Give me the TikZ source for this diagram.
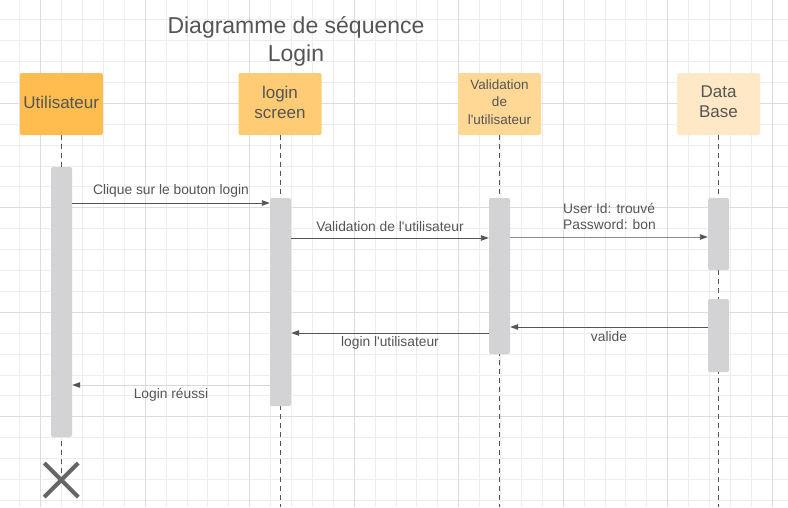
\documentclass[tikz,border=0pt]{standalone}
\usepackage{fontspec}
\setmainfont{Liberation Sans}
\usetikzlibrary{arrows.meta,calc}
\definecolor{gminor}{HTML}{EDEDED}
\definecolor{gmajor}{HTML}{DCDCDC}
\definecolor{txt}{HTML}{555555}
\definecolor{actA}{HTML}{FFBC4F}
\definecolor{actB}{HTML}{FFCB74}
\definecolor{actC}{HTML}{FFD895}
\definecolor{actD}{HTML}{FFE8C6}
\definecolor{barc}{HTML}{D3D3D5}
\definecolor{linec}{HTML}{555555}
\tikzset{
  minorline/.style={draw=gminor, line width=1pt},
  majorline/.style={draw=gmajor, line width=1.2pt},
  actor/.style={rounded corners=2pt, minimum width=83pt, minimum height=62pt, inner sep=1pt},
  actortext/.style={yshift=2pt, align=center, text=txt, inner sep=0pt, font=\fontsize{17}{20}\selectfont},
  actortextsmall/.style={actortext, font=\fontsize{13.5}{17.5}\selectfont},
  bar/.style={fill=barc, rounded corners=2pt, minimum width=21pt, inner sep=0pt},
  lifeline/.style={draw=linec, dash pattern=on 5pt off 4pt, line width=0.9pt},
  msg/.style={draw=linec, line width=0.9pt, -{Triangle[length=8pt,width=5.5pt,color=linec]}},
  msglabel/.style={text=txt, font=\fontsize{13.8}{16}\selectfont, inner sep=0pt},
  title/.style={text=txt, font=\fontsize{23}{28}\selectfont, align=center},
  crossline/.style={draw=black!60, line width=4pt}
}
\newcommand{\apos}{\textquotesingle}
\begin{document}
\begin{tikzpicture}[x=1pt,y=-1pt]
\useasboundingbox (0,0) rectangle (788,507);
\begin{scope}
\clip (0,0) rectangle (788,507);
\fill[white] (0,0) rectangle (788,507);
\foreach \k in {0,...,37} {\draw[minorline] ({19.8+20.9*\k},0) -- ++(0,507);}
\foreach \k in {1,...,24} {\draw[minorline] (0,{-1.2+20.9*\k}) -- ++(788,0);}
\foreach \k in {0,...,7} {\draw[majorline] ({40.7+104.5*\k},0) -- ++(0,507);}
\foreach \k in {1,...,4} {\draw[majorline] (0,{-1.2+104.5*\k}) -- ++(788,0);}
\end{scope}

\node[title] (title) at (296,41) {Diagramme de séquence\\Login};

\node[actor, fill=actA, label={[actortext]center:Utilisateur}] (au) at (61.25,104) {};
\node[actor, fill=actB, label={[actortext]center:{login\\screen}}] (al) at (280,104) {};
\node[actor, fill=actC, label={[actortextsmall]center:{Validation\\de\\l\apos utilisateur}}] (av) at (499.5,104) {};
\node[actor, fill=actD, label={[actortext]center:{Data\\Base}}] (ad) at (718.5,104) {};

\coordinate (xend) at (61.25,480);
\coordinate (lend) at (280.5,507);
\coordinate (vend) at (499.5,507);
\coordinate (dend) at (718.5,507);

\draw[lifeline] (au.south) -- (xend);
\draw[lifeline] (al.south) -- (al.south |- lend);
\draw[lifeline] (av.south) -- (av.south |- vend);
\draw[lifeline] (ad.south) -- (ad.south |- dend);

\node[bar, minimum height=270pt] (bu) at (61.5,302) {};
\node[bar, minimum height=208pt] (bl) at (280.5,302) {};
\node[bar, minimum height=156pt] (bv) at (499.5,276) {};
\node[bar, minimum height=72pt] (bd1) at (718.5,234) {};
\node[bar, minimum height=73pt] (bd2) at (718.5,335.5) {};

\draw[crossline] ($(xend)+(-17,-17)$) -- ($(xend)+(17,17)$);
\draw[crossline] ($(xend)+(17,-17)$) -- ($(xend)+(-17,17)$);

\draw[msg] (bu.east |- 0,203) -- (bl.west |- 0,203);
\node[msglabel] (m1) at (171,190.5) {Clique sur le bouton login};

\draw[msg] (bl.east |- 0,238) -- (bv.west |- 0,238);
\node[msglabel] (m2) at (390,227) {Validation de l\apos utilisateur};

\draw[msg, draw=black!45] (bv.east |- 0,237) -- (bd1.west |- 0,237);
\node[msglabel, anchor=west, align=left] (m3) at (563,216) {User Id: trouvé\\Password: bon};

\draw[msg] (bd2.west |- 0,327) -- (bv.east |- 0,327);
\node[msglabel] (m4) at (609,336.5) {valide};

\draw[msg] (bv.west |- 0,333) -- (bl.east |- 0,333);
\node[msglabel] (m5) at (390,342.5) {login l\apos utilisateur};

\draw[msg, draw=black!15] (bl.west |- 0,385) -- (bu.east |- 0,385);
\node[msglabel] (m6) at (171,395) {Login réussi};
\end{tikzpicture}
\end{document}
